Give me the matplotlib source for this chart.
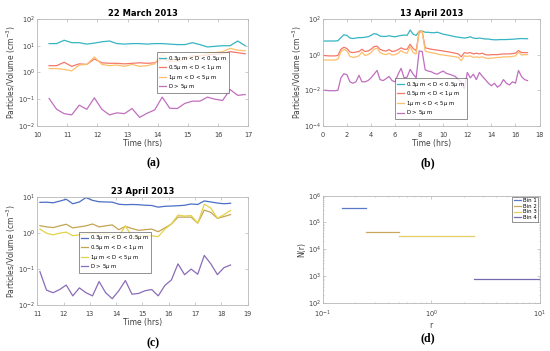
import matplotlib
matplotlib.use("Agg")
import matplotlib.pyplot as plt
import numpy as np

# ---- данные (a) 22 March 2013
t_a = [10.4, 10.65, 10.9, 11.15, 11.4, 11.65, 11.9, 12.15, 12.4, 12.65, 12.9, 13.15, 13.4, 13.65,
       13.9, 14.15, 14.4, 14.65, 14.9, 15.15, 15.4, 15.65, 15.9, 16.15, 16.4, 16.65, 16.9]
a_03 = [12, 12, 16, 13, 13, 11.5, 12.5, 14, 15, 12, 11.5, 12, 12, 11.5, 12, 12, 11.5, 11, 11,
        13, 11, 9, 9.5, 10, 10, 15, 10]
a_05 = [1.8, 1.8, 2.4, 1.7, 2.1, 2.0, 3.2, 2.3, 2.2, 2.2, 2.1, 2.2, 2.3, 2.2, 2.3, 3.2, 2.6,
        2.6, 3.2, 4.2, 4.2, 4.5, 4.8, 5.0, 6.0, 5.5, 5.0]
a_1 = [1.4, 1.4, 1.3, 1.15, 1.9, 2.0, 3.8, 2.0, 1.8, 1.9, 1.7, 2.0, 1.7, 1.8, 2.1, 5.0, 2.7,
       2.6, 3.2, 4.0, 4.3, 5.3, 5.5, 6.0, 8.0, 6.8, 6.5]
a_5 = [0.107, 0.042, 0.029, 0.026, 0.06, 0.042, 0.113, 0.042, 0.026, 0.031, 0.029, 0.045,
       0.021, 0.03, 0.04, 0.12, 0.046, 0.045, 0.07, 0.085, 0.085, 0.12, 0.1, 0.09, 0.23, 0.14, 0.15]

# ---- (b) 13 April 2013
t_b = [0, 0.25, 0.5, 0.75, 1.0, 1.25, 1.5, 1.75, 2.0, 2.25, 2.5, 2.75, 3.0, 3.25, 3.5, 3.75,
       4.0, 4.25, 4.5, 4.75, 5.0, 5.25, 5.5, 5.75, 6.0, 6.25, 6.5, 6.75, 7.0, 7.25, 7.5, 7.75,
       8.0, 8.25, 8.5, 8.75, 9.0, 9.25, 9.5, 9.75, 10.0, 10.25, 10.5, 10.75, 11.0, 11.25, 11.5,
       11.75, 12.0, 12.25, 12.5, 12.75, 13.0, 13.25, 13.5, 13.75, 14.0, 14.25, 14.5, 14.75,
       15.0, 15.25, 15.5, 15.75, 16.0, 16.25, 16.5, 16.75, 17.0]
b_03 = [5.8, 5.8, 5.8, 5.8, 5.8, 6.0, 9, 13, 12, 8.5, 8, 8.5, 9, 9, 9.5, 10,
        12, 15, 14, 11, 10.5, 10.5, 11.5, 10.5, 10, 11, 12, 12.5, 12, 24, 14, 12,
        20, 21, 18, 18, 17, 17, 18, 16, 14, 13, 12, 11, 10, 9.5, 9,
        8.5, 9, 10, 8.5, 8, 8.5, 8, 7.5, 7.5, 7, 6.8, 6.8, 7,
        7, 7, 7.2, 7.3, 7.5, 7.8, 8, 7.8, 7.8]
b_05 = [0.9, 0.88, 0.85, 0.85, 0.85, 0.9, 2.0, 2.6, 2.2, 1.4, 1.3, 1.4, 1.5, 2.0, 1.5, 1.6,
        2.0, 2.8, 3.0, 2.0, 1.7, 1.6, 1.9, 1.5, 1.6, 1.9, 2.4, 2.0, 2.0, 3.8, 2.2, 1.7,
        18, 20, 2.4, 2.2, 2.0, 1.9, 1.8, 1.7, 1.6, 1.5, 1.4, 1.3, 1.2, 1.1, 0.75,
        1.3, 1.2, 1.3, 1.1, 1.2, 1.1, 1.2, 1.0, 0.95, 1.0, 1.0, 1.0, 1.05,
        1.1, 1.1, 1.1, 1.15, 1.2, 1.7, 1.3, 1.3, 1.3]
b_1 = [0.5, 0.5, 0.5, 0.5, 0.5, 0.55, 1.4, 2.0, 1.6, 0.8, 0.7, 0.75, 0.85, 1.4, 0.9, 1.0,
       1.3, 2.0, 2.3, 1.3, 1.1, 1.0, 1.2, 0.95, 1.0, 1.2, 1.7, 1.3, 1.2, 2.8, 1.3, 1.1,
       22, 20, 1.6, 1.4, 1.3, 1.2, 1.1, 1.0, 0.95, 0.9, 0.85, 0.8, 0.75, 0.7, 0.45,
       0.85, 0.8, 0.85, 0.7, 0.75, 0.7, 0.75, 0.65, 0.6, 0.65, 0.65, 0.7, 0.7,
       0.75, 0.75, 0.75, 0.8, 0.85, 1.4, 0.95, 1.0, 1.0]
b_5 = [0.010, 0.010, 0.0095, 0.0095, 0.0095, 0.01, 0.05, 0.085, 0.075, 0.03, 0.025, 0.03,
       0.07, 0.03, 0.03, 0.035, 0.05, 0.08, 0.13, 0.04, 0.035, 0.045, 0.06, 0.035, 0.03,
       0.08, 0.17, 0.05, 0.055, 0.15, 0.08, 0.05, 1.6, 1.5, 0.14, 0.12, 0.11, 0.09, 0.08,
       0.1, 0.12, 0.09, 0.08, 0.07, 0.06, 0.04, 0.03, 0.012, 0.1, 0.05, 0.08, 0.04, 0.1,
       0.06, 0.04, 0.025, 0.018, 0.025, 0.015, 0.02, 0.04, 0.025, 0.02, 0.03, 0.025, 0.13,
       0.06, 0.04, 0.035]

# ---- (c) 23 April 2013
t_c = [11.1, 11.35, 11.6, 11.85, 12.1, 12.35, 12.6, 12.85, 13.1, 13.35, 13.6, 13.85, 14.1,
       14.35, 14.6, 14.85, 15.1, 15.35, 15.6, 15.85, 16.1, 16.35, 16.6, 16.85, 17.1, 17.35,
       17.6, 17.85, 18.1, 18.35]
c_03 = [7.2, 7.3, 7.0, 7.8, 8.8, 6.6, 7.4, 9.8, 8.2, 7.5, 7.4, 7.3, 6.4, 6.2, 6.3, 6.2, 6.0,
        5.9, 5.3, 5.6, 5.7, 5.8, 6.0, 6.5, 6.3, 7.9, 7.4, 6.9, 6.6, 6.8]
c_05 = [1.62, 1.5, 1.43, 1.6, 1.77, 1.4, 1.5, 1.6, 1.8, 1.5, 1.6, 1.7, 1.25, 1.55, 1.35, 1.2,
        1.25, 1.3, 1.1, 1.4, 1.8, 2.8, 2.8, 2.8, 1.9, 4.4, 3.8, 2.6, 2.9, 3.3]
c_1 = [1.3, 1.0, 0.9, 1.0, 1.07, 0.85, 0.9, 0.95, 1.0, 0.95, 0.95, 0.9, 0.82, 1.6, 0.8, 0.8,
       0.85, 0.85, 0.8, 1.3, 1.8, 3.2, 3.0, 3.1, 1.9, 6.4, 5.0, 2.6, 3.3, 4.3]
c_5 = [0.085, 0.026, 0.022, 0.027, 0.036, 0.018, 0.03, 0.022, 0.018, 0.045, 0.022, 0.015,
       0.025, 0.048, 0.02, 0.021, 0.025, 0.027, 0.018, 0.035, 0.05, 0.14, 0.07, 0.1, 0.072,
       0.24, 0.14, 0.07, 0.11, 0.13]

# ---- (d) bins
bin_names = ["Bin 1", "Bin 2", "Bin 3", "Bin 4"]
bin_r = [(0.15, 0.25), (0.25, 0.5), (0.5, 2.5), (2.5, 10)]
bin_N = [3.4e5, 4.5e4, 3.2e4, 740]

labels = ["0.3$\\mu$ m < D < 0.5$\\mu$ m", "0.5$\\mu$ m < D < 1$\\mu$ m",
          "1$\\mu$ m < D < 5$\\mu$ m", "D > 5$\\mu$ m"]
col_ab = ["#35b5c3", "#f4786a", "#fdbf6c", "#c06fbf"]
col_c = ["#4a6fc4", "#c5a452", "#e4d24a", "#8a6cb8"]
col_d = ["#5a78c8", "#c8a85a", "#e6cf62", "#7868b0"]

plt.rcParams['font.family'] = ['DejaVu Sans']
plt.rcParams['font.size'] = 5
plt.rcParams['mathtext.fontset'] = 'dejavusans'


def style(ax):
    for s in ax.spines.values():
        s.set_color("#b8b8b8")
        s.set_linewidth(0.6)
    ax.tick_params(which='both', direction='in', top=True, right=True, colors="#b8b8b8",
                   labelcolor="#404040", labelsize=4.8, width=0.5, length=2, pad=1.5)
    ax.tick_params(axis='x', which='both', pad=4.5)
    ax.tick_params(which='minor', length=1)


def legend(ax, **kw):
    leg = ax.legend(fontsize=3.9, frameon=True, fancybox=False, borderpad=0.3,
                    labelspacing=0.1, handlelength=1.3, handletextpad=0.4, **kw)
    leg.get_frame().set_edgecolor("#404040")
    leg.get_frame().set_linewidth(0.5)


def panel(ax, t, ys, cols, title, xlim, xticks, ylim, leg_loc):
    for y, c, lab in zip(ys, cols, labels):
        ax.plot(t, y, color=c, lw=0.9, label=lab)
    ax.set_yscale('log')
    ax.set_xlim(xlim)
    ax.set_xticks(xticks)
    ax.set_ylim(ylim)
    ax.minorticks_off()
    ax.set_title(title, fontsize=6, fontweight='bold', pad=2)
    ax.set_xlabel("Time (hrs)", fontsize=5.5, color="#404040", labelpad=0.5)
    ax.set_ylabel("Particles/Volume (cm$^{-3}$)", fontsize=5.5, color="#404040", labelpad=0)
    legend(ax, loc='lower left', bbox_to_anchor=leg_loc, borderaxespad=0)
    style(ax)


fig = plt.figure(figsize=(5.5, 3.51), dpi=100)
ax_a = fig.add_axes([0.0673, 0.641, 0.384, 0.305])
ax_b = fig.add_axes([0.587, 0.641, 0.394, 0.305])
ax_c = fig.add_axes([0.0678, 0.131, 0.3825, 0.307])
ax_d = fig.add_axes([0.587, 0.1376, 0.394, 0.305])

panel(ax_a, t_a, [a_03, a_05, a_1, a_5], col_ab, "22 March 2013", (10, 17),
      range(10, 18), (1e-2, 1e2), (0.57, 0.31))
panel(ax_b, t_b, [b_03, b_05, b_1, b_5], col_ab, "13 April 2013", (0, 18),
      range(0, 19, 2), (1e-4, 1e2), (0.334, 0.065))
ax_b.set_yticks([1e-4, 1e-2, 1e0, 1e2])
panel(ax_c, t_c, [c_03, c_05, c_1, c_5], col_c, "23 April 2013", (11, 19),
      range(11, 20), (1e-2, 1e1), (0.198, 0.30))

for (r0, r1), n, c, name in zip(bin_r, bin_N, col_d, bin_names):
    ax_d.plot([r0, r1], [n, n], color=c, lw=0.9, label=name)
ax_d.set_xscale('log')
ax_d.set_yscale('log')
ax_d.set_xlim(0.1, 10)
ax_d.set_ylim(1e2, 1e6)
ax_d.set_xlabel("r", fontsize=5.5, color="#404040", labelpad=0.5)
ax_d.set_ylabel("N(r)", fontsize=5.5, color="#404040", labelpad=1)
legend(ax_d, loc='upper right', borderaxespad=0.2)
style(ax_d)

cap = dict(fontsize=8.5, fontweight='bold', family='Liberation Serif', ha='center', va='center')
fig.text(153 / 550, 1 - 163 / 351, "(a)", **cap)
fig.text(428 / 550, 1 - 163 / 351, "(b)", **cap)
fig.text(153 / 550, 1 - 343 / 351, "(c)", **cap)
fig.text(428 / 550, 1 - 338 / 351, "(d)", **cap)

fig.savefig("out.png", dpi=100)
